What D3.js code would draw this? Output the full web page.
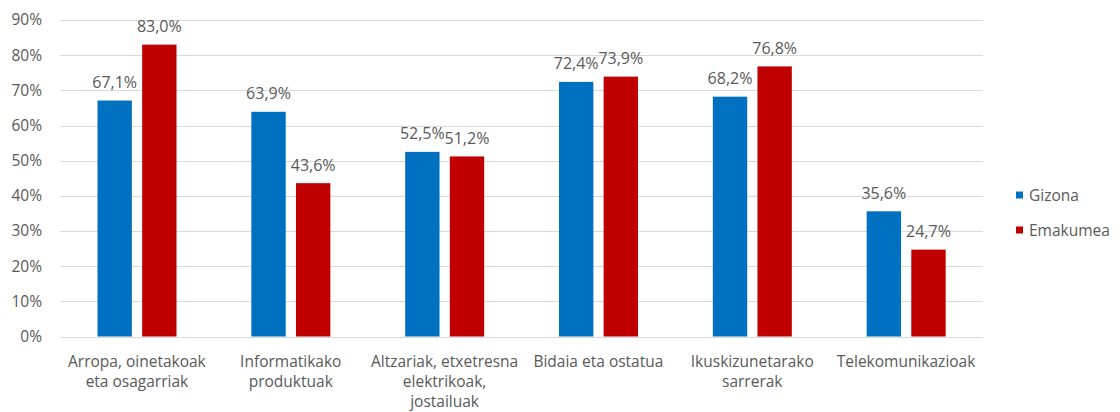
<!DOCTYPE html>
<html><head><meta charset="utf-8">
<script src="https://cdn.jsdelivr.net/npm/d3@7"></script>
<style>
html,body{margin:0;padding:0;background:#fff;}
svg text{font-family:"Open Sans","Noto Sans",sans-serif;fill:#595959;}
</style></head>
<body><svg id="c" width="1120" height="412"></svg>
<script>
const categories = ["Arropa, oinetakoak\neta osagarriak","Informatikako\nproduktuak","Altzariak, etxetresna\nelektrikoak,\njostailuak","Bidaia eta ostatua","Ikuskizunetarako\nsarrerak","Telekomunikazioak"];
const seriesNames = ["Gizona","Emakumea"];
const gizona = [67.1, 63.9, 52.5, 72.4, 68.2, 35.6];
const emakumea = [83.0, 43.6, 51.2, 73.9, 76.8, 24.7];
const yTicks = [0,10,20,30,40,50,60,70,80,90];
const colors = ["#0070C0","#C00000"];

const svg = d3.select("#c");
const x0 = d3.scaleBand().domain(categories).range([60,983]).paddingInner(0).paddingOuter(0);
const y = d3.scaleLinear().domain([0,90]).range([336.5,20]);
const x1 = d3.scaleBand().domain(seriesNames).range([37.5, 116.5]).paddingInner(0.23);
const fmt = v => v.toFixed(1).replace(".",",") + "%";

// gridlines
svg.append("g").selectAll("line").data(yTicks).join("line")
  .attr("x1",60).attr("x2",983)
  .attr("y1",d=>Math.round(y(d))+0.5).attr("y2",d=>Math.round(y(d))+0.5)
  .attr("stroke","#D9D9D9").attr("stroke-width",1);

// y axis labels
const yAxis = d3.axisLeft(y).tickValues(yTicks).tickFormat(d=>d+"%").tickSize(0).tickPadding(0);
const ya = svg.append("g").attr("transform","translate(42,0)").call(yAxis);
ya.select(".domain").remove();
ya.selectAll("text").attr("font-size","15.5px").style("font-family",'"Open Sans",sans-serif').attr("fill","#595959");

// bars
const data = categories.map((c,i)=>({c, vals:[{s:seriesNames[0],v:gizona[i]},{s:seriesNames[1],v:emakumea[i]}]}));
const g = svg.append("g").selectAll("g").data(data).join("g")
  .attr("transform",d=>`translate(${x0(d.c)},0)`);
g.selectAll("rect").data(d=>d.vals).join("rect")
  .attr("x",d=>x1(d.s)).attr("width",x1.bandwidth())
  .attr("y",d=>y(d.v)).attr("height",d=>y(0)-y(d.v))
  .attr("fill",(d,i)=>colors[i]);
g.selectAll("text.lbl").data(d=>d.vals).join("text").attr("class","lbl")
  .attr("x",d=>x1(d.s)+x1.bandwidth()/2).attr("y",d=>y(d.v)-12.5)
  .attr("text-anchor","middle").attr("font-size","16px").text(d=>fmt(d.v));

// x axis labels
const xl = svg.append("g").selectAll("text").data(categories).join("text")
  .attr("text-anchor","middle").attr("font-size","15.5px")
  .attr("x",d=>x0(d)+x0.bandwidth()/2).attr("y",367);
xl.selectAll("tspan").data(d=>d.split("\n")).join("tspan")
  .attr("x",function(){return d3.select(this.parentNode).attr("x");})
  .attr("dy",(d,i)=>i===0?0:20).text(d=>d);

// legend
const leg = svg.append("g").selectAll("g").data(seriesNames).join("g")
  .attr("transform",(d,i)=>`translate(1016,${191.5+i*35})`);
leg.append("rect").attr("width",7).attr("height",7).attr("fill",(d,i)=>colors[i]);
leg.append("text").attr("x",13).attr("y",9).attr("font-size","15.5px").text(d=>d);
</script></body></html>
